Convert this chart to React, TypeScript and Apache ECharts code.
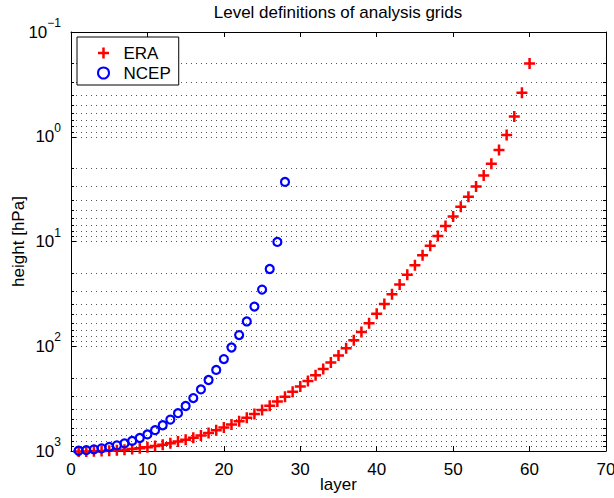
import { useEffect, useRef } from 'react'
import * as echarts from 'echarts'

// ERA half-level pressures [hPa], layer 1 (surface) .. 60 (top)
const eraPressure = [
  1013.25, 1010.85, 1007.26, 1002.03, 994.74, 985.14, 972.98, 958.15, 940.55, 920.19,
  897.11, 871.42, 843.26, 812.83, 780.34, 746.07, 710.26, 673.24, 635.31, 596.78,
  557.97, 519.21, 480.79, 443.01, 406.13, 370.41, 336.04, 303.22, 272.06, 242.65,
  215.02, 189.15, 165.09, 142.9, 122.61, 104.23, 87.73, 73.07, 60.18, 49.07,
  39.6, 31.96, 25.8, 20.82, 16.81, 13.56, 10.95, 8.84, 7.13, 5.76,
  4.65, 3.74, 2.99, 2.35, 1.81, 1.34, 0.96, 0.64, 0.38, 0.2,
]

// NCEP sigma levels x 1000 hPa, layer 1 .. 28
const ncepPressure = [
  995.0, 982.1, 964.4, 942.5, 915.9, 883.8, 845.8, 801.4, 750.8, 694.3,
  632.9, 568.1, 501.7, 435.7, 372.0, 312.5, 258.2, 210.1, 168.2, 132.6,
  102.8, 78.2, 58.0, 41.8, 28.8, 18.3, 10.1, 2.7,
]

const seriesNames = ['ERA', 'NCEP']
const layerRange = [0, 70]
const pressureRange = [0.1, 1000]

const FONT = "'Liberation Sans', Arial, Helvetica, sans-serif"
const PLUS = 'path://M4.25,0h2.5v4.25h4.25v2.5h-4.25v4.25h-2.5v-4.25h-4.25v-2.5h4.25z'
const dotted = { type: [1, 4] as number[], color: '#555', width: 1 }
const axisLine = { show: true, onZero: false, lineStyle: { color: '#000', width: 1 } }

function App() {
  const chartRef = useRef<HTMLDivElement | null>(null)

  useEffect(() => {
    if (!chartRef.current) {
      return undefined
    }

    const chart = echarts.init(chartRef.current, undefined, { renderer: 'svg' })

    const xBase = {
      type: 'value' as const,
      min: layerRange[0],
      max: layerRange[1],
      interval: 10,
      axisLine,
      axisTick: { inside: true, length: 5, lineStyle: { color: '#000' } },
      splitLine: { show: false },
    }
    const yBase = {
      type: 'log' as const,
      logBase: 10,
      min: pressureRange[0],
      max: pressureRange[1],
      inverse: true,
      axisLine,
      axisTick: { inside: true, length: 5, lineStyle: { color: '#000' } },
      minorTick: { show: true, splitNumber: 9, length: 3, lineStyle: { color: '#000' } },
    }

    const option: echarts.EChartsOption = {
      animation: false,
      backgroundColor: '#fff',
      textStyle: { fontFamily: FONT },
      title: {
        text: 'Level definitions of analysis grids',
        left: 338,
        top: 4,
        padding: 0,
        textAlign: 'center',
        textStyle: { fontSize: 17, fontWeight: 'normal', color: '#000', fontFamily: FONT },
      },
      grid: { left: 71, right: 8, top: 32, bottom: 47, outerBoundsMode: 'none' } as any,
      legend: {
        orient: 'vertical',
        left: 77,
        top: 37,
        padding: [7, 8, 3, 20],
        itemGap: 2,
        itemWidth: 30,
        itemHeight: 11,
        borderColor: '#000',
        borderWidth: 1,
        borderRadius: 0,
        backgroundColor: '#fff',
        textStyle: { fontSize: 17, lineHeight: 18, color: '#000', fontFamily: FONT },
        data: [
          { name: seriesNames[0], icon: PLUS, itemStyle: { color: '#ff0000', borderWidth: 0, opacity: 1 } },
          {
            name: seriesNames[1],
            icon: 'circle',
            itemStyle: { color: 'rgba(0,0,0,0)', borderColor: '#0000ff', borderWidth: 2, opacity: 1 },
          },
        ],
      },
      xAxis: [
        {
          ...xBase,
          position: 'bottom',
          name: 'layer',
          nameLocation: 'middle',
          nameGap: 25,
          nameMoveOverlap: false,
          nameTextStyle: { fontSize: 17, color: '#000', fontFamily: FONT },
          axisLabel: { fontSize: 17, color: '#000', margin: 10, fontFamily: FONT },
        } as any,
        { ...xBase, position: 'top', axisLabel: { show: false } },
      ],
      yAxis: [
        {
          ...yBase,
          position: 'left',
          name: 'height [hPa]',
          nameLocation: 'middle',
          nameGap: 44,
          nameMoveOverlap: false,
          nameTextStyle: { fontSize: 17, color: '#000', fontFamily: FONT },
          splitLine: { show: true, lineStyle: dotted },
          minorSplitLine: { show: true, lineStyle: dotted },
          axisLabel: {
            margin: 10,
            color: '#000',
            formatter: (value: number) => {
              const exp = Math.round(Math.log10(value))
              return `{b|10}{s|${exp < 0 ? '\u2212' + Math.abs(exp) : exp}}`
            },
            rich: {
              b: { fontSize: 17, color: '#000', fontFamily: FONT },
              s: { fontSize: 12, color: '#000', fontFamily: FONT, padding: [0, 0, 18, 0] },
            },
          },
        } as any,
        {
          ...yBase,
          position: 'right',
          axisLabel: { show: false },
          splitLine: { show: false },
          minorSplitLine: { show: false },
        },
      ],
      series: [
        {
          name: seriesNames[0],
          type: 'scatter',
          clip: false,
          symbol: PLUS,
          symbolSize: 11,
          symbolKeepAspect: true,
          itemStyle: { color: '#ff0000', opacity: 1 },
          data: eraPressure.map((p, i) => [i + 1, p]),
        },
        {
          name: seriesNames[1],
          type: 'scatter',
          clip: false,
          symbol: 'circle',
          symbolSize: 8,
          itemStyle: { color: 'rgba(0,0,0,0)', borderColor: '#0000ff', borderWidth: 2.2, opacity: 1 },
          data: ncepPressure.map((p, i) => [i + 1, p]),
        },
      ],
    }

    chart.setOption(option)

    const handleResize = () => chart.resize()
    window.addEventListener('resize', handleResize)

    return () => {
      window.removeEventListener('resize', handleResize)
      chart.dispose()
    }
  }, [])

  return (
    <div
      ref={chartRef}
      style={{ position: 'fixed', left: 0, top: 0, width: 614, height: 498 }}
    />
  )
}

export default App
